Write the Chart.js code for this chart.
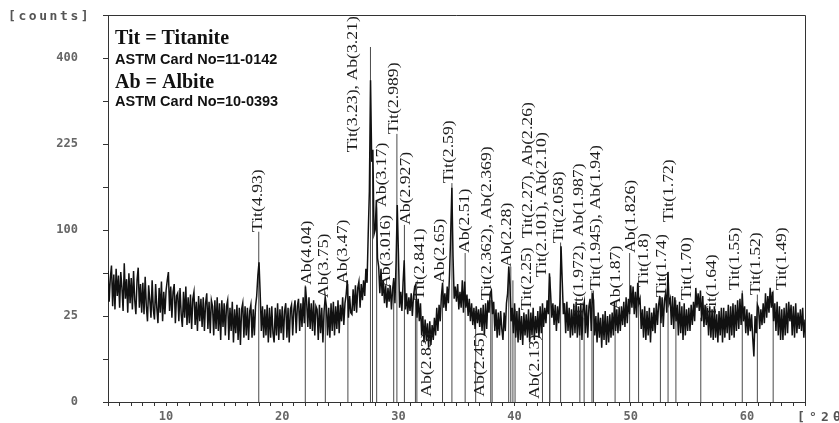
<!DOCTYPE html>
<html>
<head>
<meta charset="utf-8">
<script src="https://cdn.jsdelivr.net/npm/chart.js@4/dist/chart.umd.min.js"></script>
<style>
  html, body { margin: 0; padding: 0; background: #fff; }
  #wrap { width: 839px; height: 423px; position: relative; }
</style>
</head>
<body>
<div id="wrap"><canvas id="xrd" width="839" height="423"></canvas></div>
<script>
// Scan: 2θ from 5° in 0.1° steps, intensities in counts
const twoThetaStart = 5.0;
const twoThetaStep = 0.1;
const counts = [
  58, 34, 52, 63, 31, 55, 29, 60, 38, 54,
  30, 57, 44, 28, 65, 36, 51, 27, 56, 33,
  52, 29, 58, 35, 26, 50, 61, 30, 47, 27,
  48, 26, 53, 31, 22, 46, 35, 24, 50, 29,
  23, 47, 30, 21, 44, 27, 49, 22, 41, 26,
  42, 50, 57, 28, 45, 24, 41, 47, 21, 38,
  40, 22, 44, 26, 19, 41, 24, 45, 20, 37,
  21, 39, 18, 36, 41, 20, 34, 17, 38, 22,
  36, 19, 37, 17, 33, 40, 18, 34, 16, 35,
  31, 15, 35, 18, 37, 17, 33, 13, 35, 19,
  33, 15, 31, 35, 13, 30, 17, 34, 12, 29,
  16, 32, 13, 30, 11, 29, 33, 14, 31, 15,
  30, 13, 28, 32, 14, 29, 15, 31, 38, 54,
  66, 40, 17, 31, 14, 29, 15, 32, 12, 30,
  14, 31, 16, 12, 30, 15, 33, 13, 29, 16,
  31, 13, 28, 33, 14, 30, 12, 29, 32, 15,
  29, 35, 16, 31, 36, 17, 33, 19, 37, 21,
  45, 34, 19, 37, 18, 33, 17, 35, 15, 31,
  29, 13, 32, 16, 30, 12, 28, 37, 31, 15,
  30, 14, 33, 17, 34, 15, 31, 18, 35, 16,
  32, 22, 37, 20, 33, 39, 50, 24, 38, 27,
  26, 43, 28, 46, 27, 44, 49, 30, 47, 35,
  50, 38, 60, 48, 95, 150, 350, 195, 215, 95,
  100, 138, 70, 62, 40, 60, 38, 50, 33, 46,
  30, 44, 34, 46, 29, 43, 52, 33, 66, 131,
  75, 30, 41, 28, 48, 68, 29, 40, 26, 37,
  28, 40, 25, 38, 45, 47, 24, 36, 22, 33,
  15, 25, 12, 23, 13, 21, 10, 22, 11, 20,
  13, 24, 15, 30, 17, 32, 22, 38, 48, 30,
  40, 28, 45, 33, 55, 95, 155, 72, 36, 45,
  34, 47, 29, 41, 30, 50, 27, 49, 30, 39,
  25, 36, 22, 33, 20, 30, 18, 31, 21, 29,
  19, 30, 17, 32, 15, 33, 18, 35, 27, 40,
  42, 26, 34, 17, 29, 14, 27, 15, 28, 18,
  13, 27, 17, 33, 40, 62, 46, 22, 30, 16,
  33, 14, 28, 12, 30, 13, 25, 11, 27, 15,
  26, 14, 29, 12, 27, 15, 30, 13, 25, 16,
  28, 14, 31, 16, 33, 19, 30, 21, 35, 26,
  56, 40, 24, 33, 20, 32, 17, 31, 21, 34,
  82, 50, 26, 33, 16, 34, 17, 30, 14, 29,
  15, 32, 16, 34, 14, 31, 15, 33, 13, 30,
  34, 16, 32, 14, 31, 36, 17, 40, 35, 15,
  25, 12, 27, 14, 24, 10, 26, 13, 28, 11,
  25, 12, 26, 14, 27, 15, 34, 17, 29, 16,
  30, 17, 31, 20, 34, 19, 37, 21, 36, 26,
  46, 30, 45, 26, 41, 24, 48, 33, 36, 18,
  29, 14, 31, 13, 28, 15, 30, 12, 27, 17,
  30, 16, 33, 20, 32, 38, 21, 37, 19, 35,
  40, 27, 57, 33, 36, 20, 38, 18, 37, 22,
  32, 15, 34, 16, 31, 13, 33, 15, 29, 17,
  30, 17, 32, 20, 34, 22, 44, 30, 40, 28,
  42, 22, 38, 19, 32, 20, 30, 15, 31, 14,
  29, 13, 31, 14, 26, 12, 28, 15, 30, 12,
  30, 14, 28, 16, 32, 13, 31, 15, 33, 14,
  32, 17, 35, 18, 36, 20, 40, 22, 31, 16,
  29, 15, 27, 17, 26, 14, 7, 25, 16, 32,
  30, 18, 29, 20, 33, 21, 40, 24, 38, 27,
  44, 30, 41, 22, 33, 17, 34, 15, 31, 13,
  29, 13, 30, 15, 33, 16, 34, 22, 32, 15,
  31, 14, 33, 16, 27, 18, 29, 17, 30, 14,
  23
];

// Reference reflections (d-spacings in Å) and the height of each marker line, counts
const wavelength = 1.5406; // Cu K-alpha
const refD = [4.93, 4.04, 3.75, 3.47, 3.23, 3.21, 3.17, 3.016, 2.989, 2.927,
  2.841, 2.83, 2.65, 2.59, 2.51, 2.45, 2.369, 2.362, 2.28, 2.27, 2.26, 2.25,
  2.13, 2.101, 2.10, 2.058, 1.987, 1.972, 1.945, 1.94, 1.87, 1.826, 1.8,
  1.74, 1.72, 1.70, 1.64, 1.55, 1.52, 1.49];
const refTop = [98, 46, 37, 47, 426, 200, 128, 44, 243, 106,
  35, 30, 48, 162, 75, 28, 35, 35, 62, 62, 50, 29,
  28, 53, 53, 86, 24, 24, 42, 42, 29, 75, 45,
  37, 56, 35, 24, 42, 39, 42];

// Peak annotations and where each one starts (2θ, counts)
const peakLabels = ["Tit(4.93)", "Ab(4.04)", "Ab(3.75)", "Ab(3.47)", "Tit(3.23), Ab(3.21)",
  "Ab(3.17)", "Ab(3.016)", "Tit(2.989)", "Ab(2.927)", "Tit(2.841)", "Ab(2.83)", "Ab(2.65)",
  "Tit(2.59)", "Ab(2.51)", "Ab(2.45)", "Tit(2.362), Ab(2.369)", "Ab(2.28)", "Tit(2.25)",
  "Tit(2.27), Ab(2.26)", "Ab(2.13)", "Tit(2.101), Ab(2.10)", "Tit(2.058)",
  "Tit(1.972), Ab(1.987)", "Tit(1.945), Ab(1.94)", "Ab(1.87)", "Ab(1.826)", "Tit(1.8)",
  "Tit(1.74)", "Tit(1.72)", "Tit(1.70)", "Tit(1.64)", "Tit(1.55)", "Tit(1.52)", "Tit(1.49)"];
const labelTwoTheta = [17.91, 22.13, 23.59, 25.22, 26.08, 28.58, 28.92, 29.61, 30.65, 31.85,
  32.45, 33.57, 34.35, 35.72, 37.01, 37.62, 39.34, 41.06, 41.14, 41.75, 42.35, 43.81,
  45.53, 47.00, 48.72, 50.01, 51.12, 52.68, 53.29, 54.83, 57.05, 59.03, 60.84, 63.07];
const labelCounts = [97.7, 46.3, 36.6, 47.1, 211, 128.5, 43.9, 242.8, 105.9, 35.2,
  0.09, 47.9, 162, 75, 0.09, 35.2, 61.6, 28.6, 90.9, 0.03, 52.8, 85.5,
  24.4, 42.4, 28.6, 75, 44.7, 37.3, 109.5, 35.2, 24.4, 42.4, 38.7, 42.4];

// Axis labelling
const yTickCounts = [0, 25, 100, 225, 400];
const xTickLabels = [10, 20, 30, 40, 50, 60];

const legendLines = [
  { text: "Tit = Titanite", font: 'bold 20px "Liberation Serif", serif', y: 44 },
  { text: "ASTM Card No=11-0142", font: 'bold 14.5px "Liberation Sans", Arial, sans-serif', y: 64 },
  { text: "Ab = Albite", font: 'bold 20px "Liberation Serif", serif', y: 88 },
  { text: "ASTM Card No=10-0393", font: 'bold 14.5px "Liberation Sans", Arial, sans-serif', y: 106 }
];

// ---- build datasets (intensity axis is square-root scaled) ----
const scanPoints = counts.map((c, i) => ({
  x: +(twoThetaStart + i * twoThetaStep).toFixed(2),
  y: Math.sqrt(c)
}));

const braggTwoTheta = d => 2 * Math.asin(wavelength / (2 * d)) * 180 / Math.PI;
const stickPoints = [];
refD.forEach((d, i) => {
  const tt = braggTwoTheta(d);
  stickPoints.push({ x: tt, y: 0 }, { x: tt, y: Math.sqrt(refTop[i]) }, { x: tt, y: null });
});

const tickFont = { family: '"DejaVu Sans Mono", monospace', size: 12, weight: 'bold' };
const tickColor = '#666';
const axisColor = '#333';

function spacedText(ctx, text, x, y, advance) {
  for (let i = 0; i < text.length; i++) ctx.fillText(text[i], x + i * advance, y);
}

const framePlugin = {
  id: 'frame',
  afterDatasetsDraw(chart) {
    const { ctx, chartArea: a } = chart;
    ctx.save();
    ctx.strokeStyle = axisColor;
    ctx.lineWidth = 1;
    ctx.beginPath();
    ctx.moveTo(a.left, a.top + 0.5);
    ctx.lineTo(a.right + 0.5, a.top + 0.5);
    ctx.lineTo(a.right + 0.5, a.bottom);
    ctx.stroke();
    ctx.restore();
  }
};

const peakLabelPlugin = {
  id: 'peakLabels',
  afterDatasetsDraw(chart) {
    const { ctx } = chart;
    const xs = chart.scales.x, ys = chart.scales.y;
    ctx.save();
    ctx.fillStyle = '#1c1c1c';
    ctx.font = '14.5px "Liberation Serif", "Times New Roman", serif';
    ctx.textBaseline = 'middle';
    ctx.textAlign = 'left';
    peakLabels.forEach((t, i) => {
      const px = xs.getPixelForValue(labelTwoTheta[i]);
      const py = ys.getPixelForValue(Math.sqrt(labelCounts[i]));
      ctx.save();
      ctx.translate(px, py);
      ctx.rotate(-Math.PI / 2);
      ctx.scale(1.22, 1);
      ctx.fillText(t, 0, 0);
      ctx.restore();
    });
    ctx.restore();
  }
};

const textPlugin = {
  id: 'texts',
  afterDraw(chart) {
    const { ctx, chartArea: a } = chart;
    ctx.save();
    ctx.fillStyle = '#111';
    ctx.textBaseline = 'alphabetic';
    ctx.textAlign = 'left';
    legendLines.forEach(l => {
      ctx.font = l.font;
      ctx.fillText(l.text, a.left + 7, l.y);
    });
    ctx.fillStyle = '#555';
    ctx.font = 'bold 13px "DejaVu Sans Mono", monospace';
    spacedText(ctx, '[counts]', 8, 20, 10.4);
    spacedText(ctx, '[°2θ]', a.right - 8, 421, 12);
    ctx.restore();
  }
};

new Chart(document.getElementById('xrd'), {
  type: 'line',
  data: {
    datasets: [
      {
        label: 'scan',
        data: scanPoints,
        borderColor: '#111',
        borderWidth: 1.5,
        pointRadius: 0,
        tension: 0,
        fill: false
      },
      {
        label: 'reference lines',
        data: stickPoints,
        borderColor: '#4a4a4a',
        borderWidth: 1,
        pointRadius: 0,
        tension: 0,
        spanGaps: false,
        fill: false
      }
    ]
  },
  options: {
    responsive: false,
    animation: false,
    devicePixelRatio: 1,
    layout: { padding: { left: 0, right: 34, top: 15, bottom: 0 } },
    plugins: { legend: { display: false }, tooltip: { enabled: false } },
    scales: {
      x: {
        type: 'linear',
        min: 5,
        max: 65,
        afterFit: s => { s.height = 21; s.paddingLeft = 0; s.paddingRight = 0; },
        border: { display: true, color: axisColor, width: 1 },
        grid: { drawOnChartArea: false, drawTicks: true, tickLength: 4, color: axisColor },
        ticks: {
          stepSize: 1,
          autoSkip: false,
          maxRotation: 0,
          padding: 4,
          color: tickColor,
          font: tickFont,
          callback: v => xTickLabels.includes(Math.round(v)) && Math.abs(v - Math.round(v)) < 1e-6 ? String(Math.round(v)) : ''
        }
      },
      y: {
        type: 'linear',
        min: 0,
        max: 22.5,
        afterFit: s => { s.width = 108; s.paddingTop = 0; s.paddingBottom = 0; },
        afterBuildTicks: s => {
          const t = [];
          for (let k = 0; k <= 9; k++) t.push({ value: k * 2.5 });
          s.ticks = t;
        },
        border: { display: true, color: axisColor, width: 1 },
        grid: { drawOnChartArea: false, drawTicks: true, tickLength: 5, color: axisColor },
        ticks: {
          autoSkip: false,
          padding: 25,
          color: tickColor,
          font: tickFont,
          callback: v => {
            const c = v * v;
            const r = Math.round(c);
            return (Math.abs(c - r) < 1e-6 && yTickCounts.includes(r)) ? String(r) : '';
          }
        }
      }
    }
  },
  plugins: [framePlugin, peakLabelPlugin, textPlugin]
});
</script>
</body>
</html>
